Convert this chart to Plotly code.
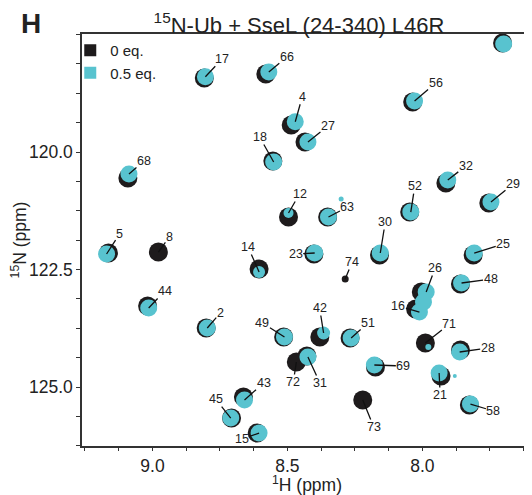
import plotly.graph_objects as go

# ---------------- data ----------------
# assignment labels ("" = unassigned peak)
peak_labels = ["17", "66", "4", "27", "18", "68", "12", "56", "32", "29", "52", "63", "",
               "5", "8", "14", "23", "30", "74", "25", "48", "26", "16", "44", "2", "49",
               "42", "51", "71", "28", "31", "72", "69", "21", "43", "45", "15", "73", "58"]

# 0 eq. (free 15N-Ub) peak positions
h_0eq = [8.808, 8.580, 8.486, 8.435, 8.554, 9.091, 8.496, 8.036, 7.913, 7.754, 8.047, 8.351, 7.703,
         9.163, 8.978, 8.605, 8.402, 8.159, 8.286, 7.812, 7.859, 8.004, 8.025, 9.018, 8.801, 8.514,
         8.380, 8.268, 7.989, 7.859, 8.428, 8.467, 8.174, 7.931, 8.663, 8.707, 8.612, 8.221, 7.826]
n_0eq = [118.426, 118.340, 119.426, 119.787, 120.191, 120.553, 121.383, 118.936, 120.660, 121.085,
         121.277, 121.383, 117.681, 122.149, 122.128, 122.489, 122.170, 122.191, 122.702, 122.191,
         122.809, 122.979, 123.340, 123.277, 123.745, 123.936, 123.936, 123.957, 124.064, 124.213,
         124.340, 124.468, 124.574, 124.766, 125.213, 125.660, 125.979, 125.277, 125.383]

# 0.5 eq. SseL (24-340) L46R peak positions (None = peak not observed)
h_05eq = [8.804, 8.569, 8.471, 8.424, 8.551, 9.087, 8.496, 8.029, 7.906, 7.746, 8.043, 8.348, 7.699,
          9.170, None, 8.605, 8.399, 8.156, None, 7.808, 7.855, 7.986, 8.011, 9.014, 8.797, 8.511,
          8.366, 8.264, 7.978, 7.862, 8.424, None, 8.178, 7.938, 8.659, 8.710, 8.605, None, 7.822]
n_05eq = [118.398, 118.298, 119.355, 119.787, 120.213, 120.468, 121.298, 118.915, 120.596, 121.064,
          121.277, 121.383, 117.702, 122.170, None, 122.553, 122.149, 122.149, None, 122.149,
          122.787, 122.979, 123.404, 123.319, 123.745, 123.936, 123.851, 123.957, 124.149, 124.255,
          124.362, None, 124.532, 124.702, 125.277, 125.660, 125.979, None, 125.362]

# weak extra 0.5 eq. contours (unassigned)
h_05eq_extra = [8.301, 7.880, 7.996]
n_05eq_extra = [121.000, 124.766, 123.191]

x_ticks_major = [9.0, 8.5, 8.0]
y_ticks_major = [120.0, 122.5, 125.0]

# ---------------- styling (kept apart from the data) ----------------
BLACK = "#1e1b1c"
CYAN = "#58c3cf"
FONT = "Liberation Sans, Arial, sans-serif"

black_size_default = 19
black_size_override = {"74": 7}
cyan_size_default = 17
cyan_size_override = {"12": 10, "14": 12, "42": 13, "71": 6}
extra_sizes = [5, 4, 17]

# label offset in pixels (label centre relative to peak)
label_offsets = {
    "17": (17, -18), "66": (18, -15), "4": (7, -25), "27": (20, -16), "18": (-14, -25),
    "68": (15, -13), "12": (11, -19), "56": (21, -18), "32": (18, -14), "29": (22, -18),
    "52": (4, -26), "63": (19, -10), "5": (13, -20), "8": (11, -15), "14": (-11, -25),
    "23": (-19, 1), "30": (5, -31), "74": (7, -17), "25": (29, -9), "48": (29, -4),
    "26": (9, -24), "16": (-21, -6), "44": (16, -17), "2": (13, -15), "49": (-22, -14),
    "42": (-4, -25), "51": (17, -15), "71": (24, -19), "28": (28, -4), "31": (12, 26),
    "72": (-3, 20), "69": (29, 1), "21": (1, 22), "43": (19, -17), "45": (-15, -19),
    "15": (-17, 6), "73": (11, 27), "58": (23, 7),
}

# the page body has an 8 px default margin: size the figure so the window matches
PAGE_OFF = 8
W, H = 532 - PAGE_OFF, 495 - PAGE_OFF
ML, MR, MT, MB = 72 - PAGE_OFF, 0, 34 - PAGE_OFF, 49
PW, PH = W - ML - MR, H - MT - MB
X_RANGE = [9.261, 7.594]
Y_RANGE = [126.255, 117.489]

fig = go.Figure()

# 0 eq. peaks
fig.add_trace(go.Scatter(
    x=h_0eq, y=n_0eq, mode="markers", showlegend=False, hoverinfo="skip",
    marker=dict(color=BLACK, opacity=1,
                size=[black_size_override.get(l, black_size_default) for l in peak_labels],
                symbol="circle", line=dict(width=0)),
))
# 0.5 eq. peaks
fig.add_trace(go.Scatter(
    x=h_05eq, y=n_05eq, mode="markers", showlegend=False, hoverinfo="skip",
    marker=dict(color=CYAN, opacity=1,
                size=[cyan_size_override.get(l, cyan_size_default) for l in peak_labels],
                symbol="circle", line=dict(width=0)),
))
fig.add_trace(go.Scatter(
    x=h_05eq_extra, y=n_05eq_extra, mode="markers", showlegend=False, hoverinfo="skip",
    marker=dict(color=CYAN, opacity=1, size=extra_sizes, symbol="circle", line=dict(width=0)),
))

# legend entries
fig.add_trace(go.Scatter(x=[None], y=[None], mode="markers", name="0 eq.",
                         marker=dict(color=BLACK, size=12, symbol="square")))
fig.add_trace(go.Scatter(x=[None], y=[None], mode="markers", name="0.5 eq.",
                         marker=dict(color=CYAN, size=12, symbol="square")))

# peak labels with leader lines
for i, lab in enumerate(peak_labels):
    if not lab:
        continue
    if h_05eq[i] is not None and lab != "71":
        px, py = h_05eq[i], n_05eq[i]
    else:
        px, py = h_0eq[i], n_0eq[i]
    dx, dy = label_offsets[lab]
    fig.add_annotation(
        x=px, y=py, text=lab, showarrow=True, ax=dx, ay=dy,
        arrowhead=0, arrowwidth=1.3, arrowcolor="#111111", standoff=0, startstandoff=0,
        font=dict(family=FONT, size=12.5, color="#222222"), borderpad=0,
    )

# panel letter
fig.add_annotation(
    xref="paper", yref="paper", x=-ML / PW, y=1 + (MT + 2) / PH,
    xanchor="left", yanchor="top", text="<b>H</b>", showarrow=False,
    font=dict(family=FONT, size=28, color="#222222"),
)

axis_common = dict(
    showline=True, linecolor="#333333", linewidth=1.5, showgrid=False, zeroline=False,
    ticks="outside", tickcolor="#333333", tickformat=".1f",
    tickfont=dict(family=FONT, size=17.5, color="#222222"),
)

fig.update_layout(
    width=W, height=H,
    margin=dict(l=ML, r=MR, t=MT, b=MB),
    paper_bgcolor="white", plot_bgcolor="white",
    title=dict(text="<sup>15</sup>N-Ub + SseL (24-340) L46R", x=(299 - PAGE_OFF) / W,
               xanchor="center", y=1 - (25 - PAGE_OFF) / H, yanchor="middle",
               font=dict(family=FONT, size=22, color="#222222")),
    xaxis=dict(range=X_RANGE, tickvals=x_ticks_major, ticklen=3, tickwidth=1.2, mirror=True,
               minor=dict(dtick=0.125, ticks="outside", ticklen=3, tickwidth=1.2, tickcolor="#333333"),
               title=dict(text="<sup>1</sup>H (ppm)", standoff=2,
                          font=dict(family=FONT, size=17.5, color="#222222")),
               **axis_common),
    yaxis=dict(range=Y_RANGE, tickvals=y_ticks_major, ticklen=4, tickwidth=1.2,
               minor=dict(dtick=0.625, ticks="outside", ticklen=4, tickwidth=1.2, tickcolor="#333333"),
               title=dict(text="<sup>15</sup>N (ppm)", standoff=9,
                          font=dict(family=FONT, size=17.5, color="#222222")),
               **axis_common),
    legend=dict(x=-12 / PW, y=1.0, xanchor="left", yanchor="top", bgcolor="rgba(0,0,0,0)",
                font=dict(family=FONT, size=15, color="#222222"), itemwidth=30,
                tracegroupgap=0),
    showlegend=True,
)

fig.write_html("out.html")
